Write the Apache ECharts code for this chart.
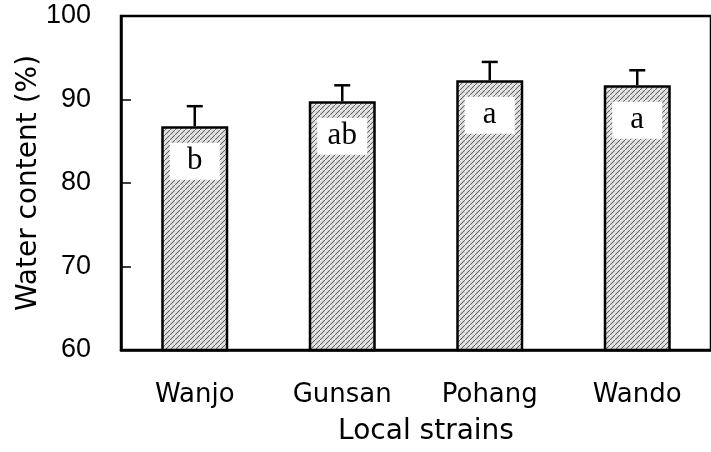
<!DOCTYPE html>
<html>
<head>
<meta charset="utf-8">
<script src="https://cdn.jsdelivr.net/npm/echarts@6/dist/echarts.min.js"></script>
<style>
html,body{margin:0;padding:0;background:#fff;}
#chart{width:711px;height:452px;}
</style>
</head>
<body>
<div id="chart"></div>
<script>
var categories = ['Wanjo', 'Gunsan', 'Pohang', 'Wando'];
var means = [86.8, 89.8, 92.3, 91.7];
var errors = [2.4, 1.9, 2.2, 1.8];
var letters = ['b', 'ab', 'a', 'a'];
var yTicks = [60, 70, 80, 90, 100];

function makePattern() {
  var s = 5;
  var c = document.createElement('canvas');
  c.width = s; c.height = s;
  var g = c.getContext('2d');
  g.fillStyle = '#ffffff';
  g.fillRect(0, 0, s, s);
  g.strokeStyle = '#5a5a5a';
  g.lineWidth = 1.1;
  g.beginPath();
  g.moveTo(-1, s + 1); g.lineTo(s + 1, -1);
  g.stroke();
  g.strokeStyle = '#b4b4b4';
  g.lineWidth = 0.8;
  g.beginPath();
  g.moveTo(1.5, s + 1); g.lineTo(s + 1, 1.5);
  g.moveTo(-1, 3.5); g.lineTo(3.5, -1);
  g.stroke();
  return c;
}

var chart = echarts.init(document.getElementById('chart'), null, {renderer: 'canvas'});
var errData = means.map(function (m, i) { return [i, m, m + errors[i]]; });

var option = {
  animation: false,
  backgroundColor: '#fff',
  grid: {
    left: 121, right: -9, top: 16, bottom: 102,
    show: true, borderColor: '#000', borderWidth: 2.5, backgroundColor: 'transparent'
  },
  xAxis: {
    type: 'category',
    data: categories,
    boundaryGap: true,
    axisLine: {lineStyle: {color: '#000', width: 2.5}},
    axisTick: {inside: true, length: 10, lineStyle: {color: '#000', width: 1.5}},
    axisLabel: {color: '#000', fontSize: 26, fontFamily: 'DejaVu Sans', margin: 32},
    name: 'Local strains',
    nameLocation: 'middle',
    nameGap: 68,
    nameMoveOverlap: false,
    nameTextStyle: {color: '#000', fontSize: 28, fontFamily: 'DejaVu Sans', padding: [0, 0, 0, 20]}
  },
  yAxis: {
    type: 'value',
    min: 60, max: 100, interval: 10,
    axisLine: {show: true, lineStyle: {color: '#000', width: 2.5}},
    axisTick: {show: true, inside: true, length: 10, lineStyle: {color: '#000', width: 1.5}},
    axisLabel: {color: '#000', fontSize: 27, fontFamily: 'Liberation Sans', margin: 30,
      formatter: function (v) { return yTicks.indexOf(v) >= 0 ? String(v) : ''; }},
    splitLine: {show: false},
    name: 'Water content (%)',
    nameLocation: 'middle',
    nameGap: 78,
    nameMoveOverlap: false,
    nameTextStyle: {color: '#000', fontSize: 28, fontFamily: 'DejaVu Sans'}
  },
  series: [
    {
      type: 'bar',
      data: means,
      barWidth: 67,
      itemStyle: {
        color: {image: makePattern(), repeat: 'repeat'},
        borderColor: '#000',
        borderWidth: 2.5
      },
      label: {
        show: true,
        position: 'insideTop',
        offset: [0, 30],
        formatter: function (p) { return letters[p.dataIndex]; },
        backgroundColor: '#fff',
        width: 50,
        height: 37,
        lineHeight: 37,
        align: 'center',
        verticalAlign: 'middle',
        color: '#000',
        fontSize: 31,
        fontFamily: 'Liberation Serif'
      },
      z: 2
    },
    {
      type: 'custom',
      data: errData,
      renderItem: function (params, api) {
        var x = api.value(0);
        var p0 = api.coord([x, api.value(1)]);
        var p1 = api.coord([x, api.value(2)]);
        var half = 8;
        return {
          type: 'group',
          children: [
            {type: 'line', shape: {x1: p0[0], y1: p0[1], x2: p1[0], y2: p1[1]},
             style: {stroke: '#000', lineWidth: 2.5}},
            {type: 'line', shape: {x1: p1[0] - half, y1: p1[1], x2: p1[0] + half, y2: p1[1]},
             style: {stroke: '#000', lineWidth: 2.5}}
          ]
        };
      },
      z: 3
    }
  ]
};
chart.setOption(option);
</script>
</body>
</html>
